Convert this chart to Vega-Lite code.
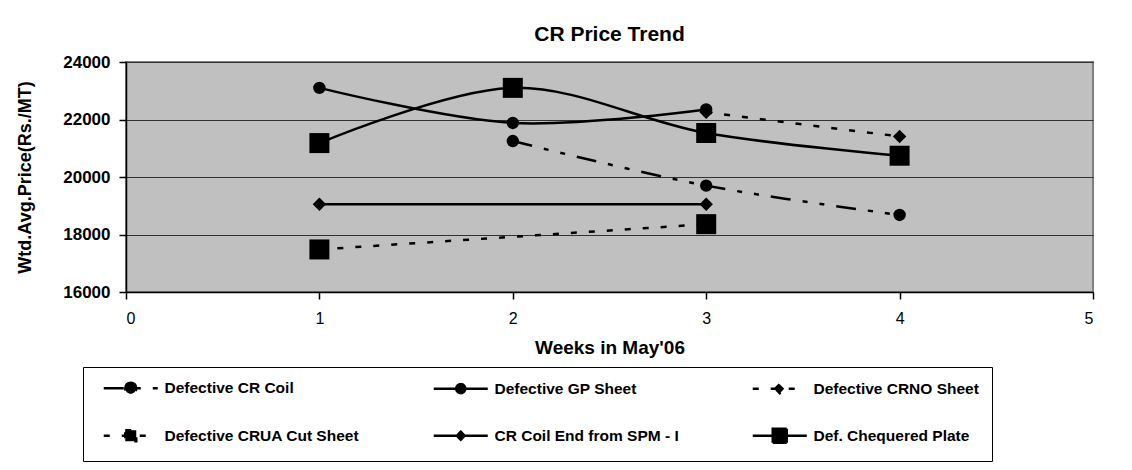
{
  "$schema": "https://vega.github.io/schema/vega-lite/v6.json",
  "autosize": {"type": "none"},
  "width": 967,
  "height": 230,
  "padding": {"left": 126, "top": 62, "right": 39, "bottom": 178},
  "background": "white",
  "title": {
    "text": "CR Price Trend",
    "font": "Liberation Sans",
    "fontSize": 21,
    "fontWeight": "bold",
    "color": "black",
    "anchor": "middle",
    "offset": 8
  },
  "config": {
    "view": {"fill": "#C0C0C0", "stroke": "#808080", "strokeWidth": 2},
    "axis": {
      "labelFont": "Liberation Sans",
      "titleFont": "Liberation Sans",
      "labelColor": "black",
      "titleColor": "black",
      "domainColor": "black",
      "domainWidth": 1.5,
      "tickColor": "black",
      "tickWidth": 1.5,
      "tickSize": 7
    },
    "legend": {
      "title": null,
      "orient": "none",
      "direction": "horizontal",
      "legendX": -43,
      "legendY": 305,
      "columns": 3,
      "gridAlign": "each",
      "symbolSize": 100,
      "symbolOpacity": 1,
      "symbolStrokeWidth": 2.5,
      "symbolOffset": 27,
      "labelOffset": 26,
      "labelFont": "Liberation Sans",
      "labelFontSize": 15.5,
      "labelFontWeight": "bold",
      "labelColor": "black",
      "labelLimit": 400,
      "padding": 13,
      "rowPadding": 24,
      "columnPadding": 66,
      "strokeColor": "black",
      "fillColor": "white"
    }
  },
  "data": {
    "values": [
      {"series": "Defective CR Coil", "week": 2, "price": 21250},
      {"series": "Defective CR Coil", "week": 3, "price": 19700},
      {"series": "Defective CR Coil", "week": 4, "price": 18680},
      {"series": "Defective GP Sheet", "week": 1, "price": 23100},
      {"series": "Defective GP Sheet", "week": 2, "price": 21880},
      {"series": "Defective GP Sheet", "week": 3, "price": 22350},
      {"series": "Defective CRNO Sheet", "week": 3, "price": 22250},
      {"series": "Defective CRNO Sheet", "week": 4, "price": 21410},
      {"series": "Defective CRUA Cut Sheet", "week": 1, "price": 17480},
      {"series": "Defective CRUA Cut Sheet", "week": 3, "price": 18360},
      {"series": "CR Coil End from SPM - I", "week": 1, "price": 19050},
      {"series": "CR Coil End from SPM - I", "week": 3, "price": 19050},
      {"series": "Def. Chequered Plate", "week": 1, "price": 21180},
      {"series": "Def. Chequered Plate", "week": 2, "price": 23100},
      {"series": "Def. Chequered Plate", "week": 3, "price": 21530},
      {"series": "Def. Chequered Plate", "week": 4, "price": 20740}
    ]
  },
  "encoding": {
    "x": {
      "field": "week",
      "type": "quantitative",
      "scale": {"domain": [0, 5], "nice": false, "zero": false},
      "axis": {
        "values": [0, 1, 2, 3, 4, 5],
        "grid": false,
        "labelFontSize": 16,
        "labelPadding": 11,
        "title": "Weeks in May'06",
        "titleFontSize": 19,
        "titleFontWeight": "bold",
        "titlePadding": 12
      }
    },
    "y": {
      "field": "price",
      "type": "quantitative",
      "scale": {"domain": [16000, 24000], "nice": false, "zero": false},
      "axis": {
        "values": [16000, 18000, 20000, 22000, 24000],
        "format": "d",
        "grid": true,
        "gridColor": "#333333",
        "gridWidth": 1.2,
        "labelFontSize": 17,
        "labelFontWeight": "bold",
        "labelPadding": 9,
        "title": "Wtd.Avg.Price(Rs./MT)",
        "titleFontSize": 18,
        "titleFontWeight": "bold",
        "titlePadding": 28
      }
    }
  },
  "layer": [
    {
      "transform": [{"filter": {"field": "series", "equal": "Defective CR Coil"}}],
      "mark": {"type": "line", "color": "black", "strokeWidth": 2.5, "interpolate": "catmull-rom", "strokeDash": [20, 12, 5, 12, 5, 12]},
      "encoding": {"detail": {"field": "series"}}
    },
    {
      "transform": [{"filter": {"field": "series", "oneOf": ["Defective CRNO Sheet", "Defective CRUA Cut Sheet"]}}],
      "mark": {"type": "line", "color": "black", "strokeWidth": 2.5, "interpolate": "catmull-rom", "strokeDash": [6, 12]},
      "encoding": {"detail": {"field": "series"}}
    },
    {
      "transform": [{"filter": {"field": "series", "oneOf": ["Defective GP Sheet", "CR Coil End from SPM - I", "Def. Chequered Plate"]}}],
      "mark": {"type": "line", "color": "black", "strokeWidth": 2.5, "interpolate": "catmull-rom"},
      "encoding": {"detail": {"field": "series"}}
    },
    {
      "transform": [{"filter": {"field": "series", "oneOf": ["Defective CR Coil", "Defective GP Sheet"]}}],
      "mark": {"type": "point", "shape": "circle", "filled": true, "color": "black", "opacity": 1, "strokeWidth": 0, "size": 154}
    },
    {
      "transform": [{"filter": {"field": "series", "oneOf": ["Defective CRNO Sheet", "CR Coil End from SPM - I"]}}],
      "mark": {"type": "point", "shape": "diamond", "filled": true, "color": "black", "opacity": 1, "strokeWidth": 0, "size": 180}
    },
    {
      "transform": [{"filter": {"field": "series", "oneOf": ["Defective CRUA Cut Sheet", "Def. Chequered Plate"]}}],
      "mark": {"type": "point", "shape": "square", "filled": true, "color": "black", "opacity": 1, "strokeWidth": 0, "size": 400}
    },
    {
      "mark": {"type": "point", "filled": true, "fill": "black", "stroke": "black", "strokeWidth": 2.5, "opacity": 0},
      "encoding": {
        "shape": {
          "field": "series",
          "type": "nominal",
          "scale": {
            "domain": ["Defective CR Coil", "Defective GP Sheet", "Defective CRNO Sheet", "Defective CRUA Cut Sheet", "CR Coil End from SPM - I", "Def. Chequered Plate"],
            "range": [
              "M-5.4,0H5.4M-1.1,0A1.1,1.1,0,1,1,1.1,0A1.1,1.1,0,1,1,-1.1,0Z",
              "M-5.4,0H5.4M-0.9,0A0.9,0.9,0,1,1,0.9,0A0.9,0.9,0,1,1,-0.9,0Z",
              "M-5.4,0H5.4M-0.9,0L0,-0.9L0.9,0L0,0.9Z",
              "M-5.4,0H5.4M-1.1,-1.1H1.1V1.1H-1.1Z",
              "M-5.4,0H5.4M-0.8,0L0,-0.8L0.8,0L0,0.8Z",
              "M-5.4,0H5.4M-1.4,-1.4H1.4V1.4H-1.4Z"
            ]
          }
        },
        "strokeDash": {
          "field": "series",
          "type": "nominal",
          "scale": {
            "domain": ["Defective CR Coil", "Defective GP Sheet", "Defective CRNO Sheet", "Defective CRUA Cut Sheet", "CR Coil End from SPM - I", "Def. Chequered Plate"],
            "range": [[20, 12, 5, 12, 5, 12], [1, 0], [6, 12], [6, 12], [1, 0], [1, 0]]
          }
        }
      }
    }
  ]
}
